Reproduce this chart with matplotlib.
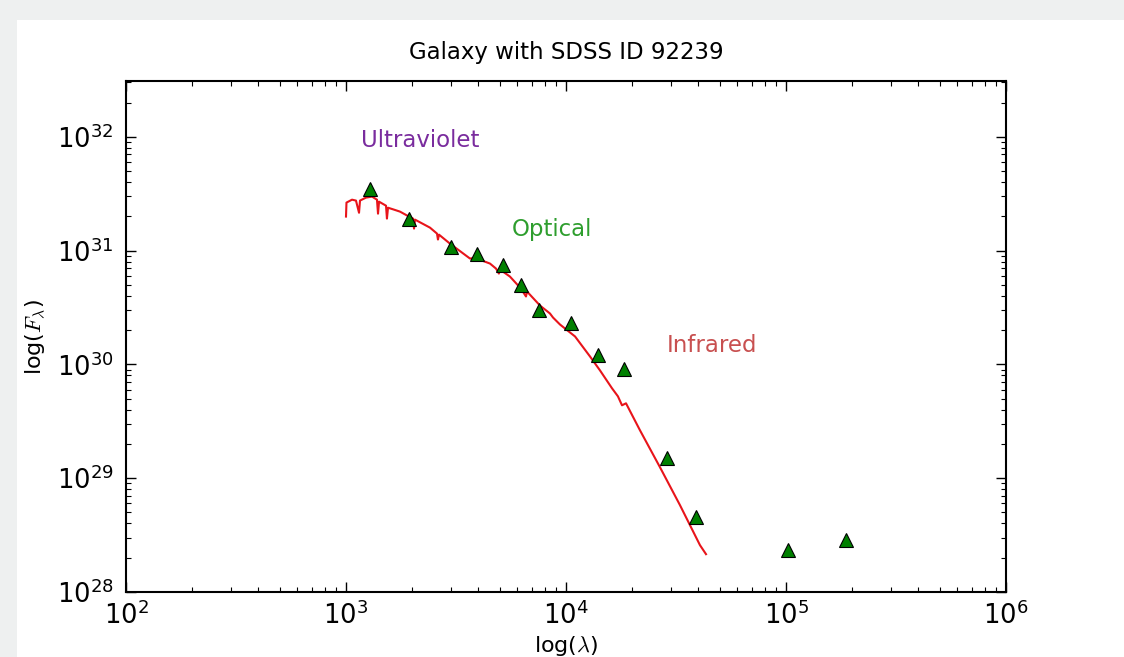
import matplotlib
matplotlib.use('Agg')
import matplotlib.pyplot as plt
from matplotlib.patches import Rectangle
import numpy as np

# model spectrum (wavelength in Angstrom, flux)
spec_wave = [1000, 1005, 1065, 1110, 1146, 1158, 1233, 1313, 1383, 1398, 1413,
             1520, 1535, 1552, 1652, 1759, 1933, 2017, 2038, 2059, 2409, 2592,
             2618, 2647, 2970, 3661, 3981, 4150, 4513, 4806, 4955, 5012, 5562,
             6237, 6579, 6649, 7616, 8456, 8730, 9391, 10990, 12850, 14270,
             16190, 17220, 17970, 18740, 21680, 26730, 32960, 40640, 43290]
spec_flux = [1.99e31, 2.64e31, 2.80e31, 2.75e31, 2.15e31, 2.75e31, 2.92e31,
             2.98e31, 2.80e31, 2.11e31, 2.69e31, 2.48e31, 1.91e31, 2.38e31,
             2.29e31, 2.20e31, 1.99e31, 1.91e31, 1.56e31, 1.87e31, 1.59e31,
             1.41e31, 1.25e31, 1.38e31, 1.15e31, 8.51e30, 8.68e30, 8.17e30,
             7.69e30, 6.95e30, 6.28e30, 6.81e30, 5.91e30, 4.64e30, 3.95e30,
             4.37e30, 3.29e30, 2.80e30, 2.58e30, 2.24e30, 1.76e30, 1.175e30,
             8.86e29, 6.16e29, 5.24e29, 4.37e29, 4.55e29, 2.64e29, 1.25e29,
             5.80e28, 2.58e28, 2.15e28]

# photometry points
phot_wave = [1285, 1932, 3000, 3940, 5180, 6240, 7540, 10540, 13970, 18350,
             28800, 39000, 102000, 187000]
phot_flux = [3.5e31, 1.9e31, 1.08e31, 9.4e30, 7.4e30, 5.0e30, 3.0e30, 2.3e30,
             1.2e30, 9.2e29, 1.5e29, 4.6e28, 2.33e28, 2.86e28]

band_names = ['Ultraviolet', 'Optical', 'Infrared']
band_x = [2170, 8630, 46100]
band_y = [9.2e31, 1.53e31, 1.47e30]
band_colors = ['#7a2c9e', '#2e9e2e', '#c85050']

plt.rcParams['mathtext.fontset'] = 'cm'
plt.rcParams['font.family'] = 'DejaVu Sans'

fig = plt.figure(figsize=(11.24, 6.57), dpi=100, facecolor='#eef0f0')
fig.patches.append(Rectangle((17/1124, 0), 1, 637/657, transform=fig.transFigure,
                             facecolor='white', edgecolor='none', zorder=-10))
ax = fig.add_axes([126/1124, 65/657, 880/1124, 511/657])

ax.plot(spec_wave, spec_flux, color='#e8141a', linewidth=1.5)
ax.plot(phot_wave, phot_flux, linestyle='none', marker='^', markersize=10,
        markerfacecolor='#008000', markeredgecolor='black', markeredgewidth=0.8)

for name, x, y, c in zip(band_names, band_x, band_y, band_colors):
    ax.text(x, y, name, color=c, fontsize=16.5, ha='center', va='center')

ax.set_xscale('log')
ax.set_yscale('log')
ax.set_xlim(1e2, 1e6)
ax.set_ylim(1e28, 10**32.49)

ax.set_title('Galaxy with SDSS ID 92239', fontsize=16.5, pad=16)
ax.set_xlabel(r'log($\lambda$)', fontsize=16, labelpad=3)
ax.set_ylabel(r'log($F_\lambda$)', fontsize=16, labelpad=6)

ax.tick_params(which='both', direction='in', top=True, right=True, labelsize=18.5)
ax.tick_params(which='major', length=7, width=1)
ax.tick_params(which='minor', length=3.5, width=0.8)
ax.tick_params(axis='x', pad=7)
ax.tick_params(axis='y', pad=9)
for s in ax.spines.values():
    s.set_linewidth(1.5)

fig.savefig('out.png', dpi=100, facecolor=fig.get_facecolor())
